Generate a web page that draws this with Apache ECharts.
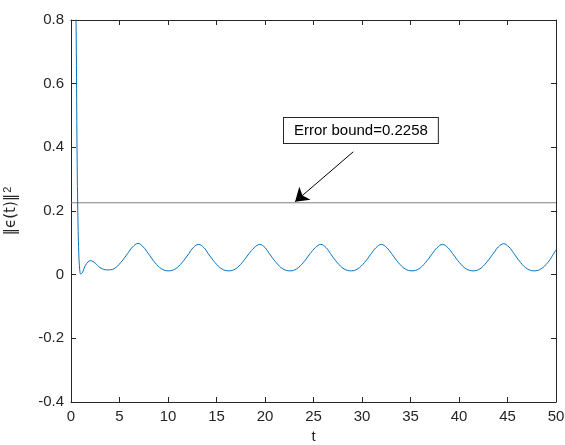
<!DOCTYPE html>
<html>
<head>
<meta charset="utf-8">
<script src="https://cdn.jsdelivr.net/npm/echarts@6/dist/echarts.min.js"></script>
<style>
  html, body { margin: 0; padding: 0; background: #fff; }
  #chart { width: 565px; height: 445px; }
</style>
</head>
<body>
<div id="chart"></div>
<script>
// time samples and error norm
const tVals = [
  0, 0.3, 0.45, 0.55, 0.62, 0.7, 0.8, 0.9, 1.0, 1.2, 1.5, 2.0, 2.5, 3.0, 3.75,
  4.45, 5.15, 5.85, 6.35, 6.9, 7.45, 7.95, 8.65, 9.35, 10.05,
  10.75, 11.45, 12.15, 12.6, 13.15, 13.7, 14.15, 14.85, 15.55, 16.25,
  16.95, 17.65, 18.35, 18.9, 19.45, 20.0, 20.45, 21.15, 21.85, 22.6,
  23.25, 23.95, 24.65, 25.2, 25.75, 26.3, 26.75, 27.45, 28.15, 28.9,
  29.55, 30.25, 30.95, 31.45, 32.0, 32.55, 33.05, 33.75, 34.45, 35.15,
  35.85, 36.55, 37.25, 37.75, 38.3, 38.85, 39.35, 40.05, 40.75, 41.45,
  42.15, 42.85, 43.55, 44.05, 44.6, 45.15, 45.65, 46.35, 47.05, 47.75,
  48.45, 49.15, 49.6, 50
]
const errVals = [
  3.0, 1.6, 1.0, 0.7, 0.4, 0.2, 0.07, 0.015, 0.002, 0.008, 0.03, 0.044, 0.036, 0.022, 0.015,
  0.019, 0.039, 0.067, 0.087, 0.098, 0.087, 0.067, 0.038, 0.018, 0.012,
  0.018, 0.038, 0.066, 0.085, 0.095, 0.085, 0.066, 0.038, 0.018, 0.012,
  0.018, 0.038, 0.066, 0.085, 0.095, 0.085, 0.066, 0.038, 0.018, 0.012,
  0.018, 0.038, 0.066, 0.085, 0.095, 0.085, 0.066, 0.038, 0.018, 0.012,
  0.018, 0.038, 0.066, 0.085, 0.095, 0.085, 0.066, 0.038, 0.018, 0.012,
  0.018, 0.038, 0.066, 0.085, 0.095, 0.085, 0.066, 0.038, 0.018, 0.012,
  0.018, 0.039, 0.067, 0.087, 0.097, 0.087, 0.067, 0.038, 0.018, 0.012,
  0.018, 0.038, 0.058, 0.078
]
const boundT = [0, 50]
const boundVal = 0.2258
const arrowFrom = [29.1, 0.386]
const arrowTo = [23.1, 0.229]

const font = 'Liberation Sans, Arial, Helvetica, sans-serif'
const axisColor = '#262626'

const chart = echarts.init(document.getElementById('chart'))

const tickStyle = { show: true, inside: true, length: 5, lineStyle: { color: axisColor } }
const lineStyleAxis = { show: true, onZero: false, lineStyle: { color: axisColor } }

const option = {
  animation: false,
  grid: { left: 71, right: 9, top: 20, bottom: 43, outerBoundsMode: 'none' },
  xAxis: [
    {
      type: 'value', min: 0, max: 50, interval: 5,
      name: 't', nameLocation: 'middle', nameGap: 27,
      nameTextStyle: { fontFamily: font, fontSize: 15, color: axisColor },
      axisLine: lineStyleAxis,
      axisTick: tickStyle,
      axisLabel: { fontFamily: font, fontSize: 15, color: axisColor, margin: 7 },
      splitLine: { show: false }
    },
    {
      type: 'value', min: 0, max: 50, interval: 5, position: 'top',
      axisLine: lineStyleAxis,
      axisTick: tickStyle,
      axisLabel: { show: false },
      splitLine: { show: false }
    }
  ],
  yAxis: [
    {
      type: 'value', min: -0.4, max: 0.8, interval: 0.2,
      name: '{n|‖ϵ(t)‖}{s|2}', nameLocation: 'middle', nameGap: 50,
      nameTextStyle: {
        color: axisColor,
        rich: {
          n: { fontFamily: 'DejaVu Sans, sans-serif', fontSize: 15, color: axisColor },
          s: { fontFamily: font, fontSize: 11, color: axisColor, verticalAlign: 'top', padding: [0, 0, 8, 1] }
        }
      },
      axisLine: lineStyleAxis,
      axisTick: tickStyle,
      axisLabel: { fontFamily: font, fontSize: 15, color: axisColor, margin: 7 },
      splitLine: { show: false }
    },
    {
      type: 'value', min: -0.4, max: 0.8, interval: 0.2, position: 'right',
      axisLine: lineStyleAxis,
      axisTick: tickStyle,
      axisLabel: { show: false },
      splitLine: { show: false }
    }
  ],
  series: [
    {
      name: 'error',
      type: 'line',
      data: tVals.map((t, i) => [t, errVals[i]]),
      showSymbol: false,
      smooth: 0.4,
      clip: true,
      lineStyle: { color: '#0072BD', width: 1 },
      z: 3
    },
    {
      name: 'bound',
      type: 'line',
      data: boundT.map(t => [t, boundVal]),
      showSymbol: false,
      lineStyle: { color: '#7f7f7f', width: 1 },
      z: 2,
      markLine: {
        silent: true,
        symbol: ['none', 'arrow'],
        symbolSize: 13,
        label: { show: false },
        lineStyle: { color: '#000', width: 1, type: 'solid' },
        data: [[{ coord: arrowFrom }, { coord: arrowTo }]]
      }
    }
  ],
  graphic: [
    {
      type: 'text',
      left: 283,
      top: 117,
      style: {
        text: 'Error bound=0.2258',
        font: '15px ' + font,
        fill: '#000',
        backgroundColor: '#fff',
        borderColor: '#262626',
        borderWidth: 1,
        padding: [5, 10, 5, 10]
      },
      z: 10
    }
  ]
}

chart.setOption(option)
</script>
</body>
</html>
